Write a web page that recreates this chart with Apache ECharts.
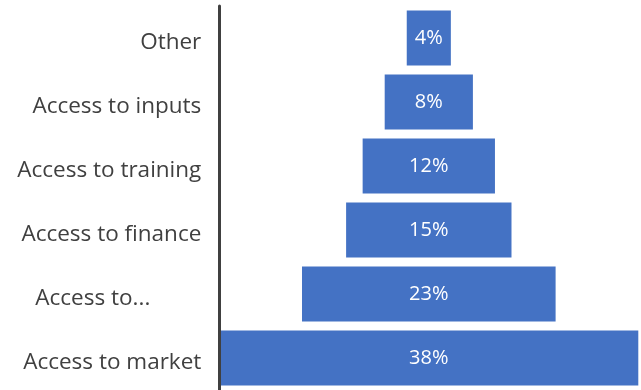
<!DOCTYPE html>
<html>
<head>
<meta charset="utf-8">
<script src="https://cdn.jsdelivr.net/npm/echarts@6/dist/echarts.min.js"></script>
<style>
  html, body { margin: 0; padding: 0; background: #ffffff; }
  #chart { width: 641px; height: 390px; }
</style>
</head>
<body>
<div id="chart"></div>
<script>
// Reasons listed bottom to top, with their share of responses (%)
const categories = ['Access to market', 'Access to...', 'Access to finance', 'Access to training', 'Access to inputs', 'Other'];
const shares = [38, 23, 15, 12, 8, 4];

const FONT = '"Segoe UI", "Open Sans", "Noto Sans", sans-serif';
const widest = Math.max(...shares);
// invisible lead-in so each bar sits centred on the widest one
const offsets = shares.map(v => (widest - v) / 2);

const chart = echarts.init(document.getElementById('chart'), null, { renderer: 'canvas' });
chart.setOption({
  animation: false,
  grid: { left: 219.3, top: 6, width: 419, height: 385, containLabel: false },
  xAxis: {
    type: 'value', min: 0, max: widest, show: false
  },
  yAxis: {
    type: 'category',
    data: categories,
    z: 5,
    axisLine: { show: true, lineStyle: { color: '#404040', width: 3 } },
    axisTick: { show: false },
    splitLine: { show: false },
    axisLabel: {
      margin: 18,
      color: '#404040',
      fontFamily: FONT,
      fontSize: 22.5,
      padding: [10, 0, 0, 0],
      formatter: v => v === 'Access to...' ? '{short|' + v + '}' : v,
      rich: {
        short: { color: '#404040', fontFamily: FONT, fontSize: 22.5, padding: [0, 51, 0, 0] }
      }
    }
  },
  series: [
    {
      type: 'bar', stack: 'funnel', data: offsets,
      itemStyle: { color: 'transparent' }, barCategoryGap: '14%', silent: true
    },
    {
      type: 'bar', stack: 'funnel', data: shares,
      barCategoryGap: '14%',
      itemStyle: { color: '#4472C4' },
      label: {
        show: true, position: 'inside',
        color: '#ffffff', fontFamily: FONT, fontSize: 20,
        formatter: p => p.value + '%'
      }
    }
  ]
});
</script>
</body>
</html>
